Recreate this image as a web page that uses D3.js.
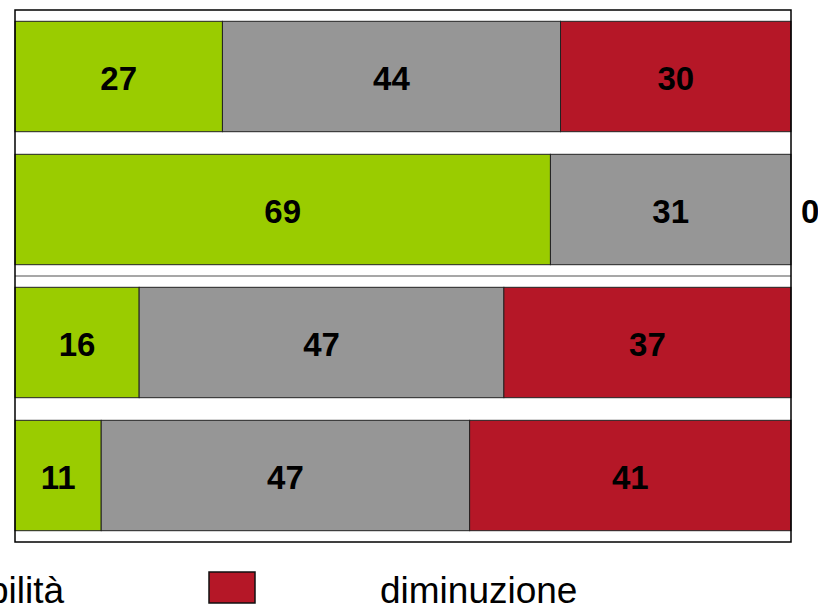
<!DOCTYPE html>
<html>
<head>
<meta charset="utf-8">
<script src="https://cdn.jsdelivr.net/npm/d3@7"></script>
<style>
  html, body { margin: 0; padding: 0; background: #fff; overflow: hidden; }
  text { font-family: "Liberation Sans", Arial, sans-serif; }
</style>
</head>
<body>
<svg id="chart"></svg>
<script>
// rows of the chart (labels sit off the visible area in the original)
const categories = ["riga 1", "riga 2", "riga 3", "riga 4"];
const seriesNames = ["aumento", "stabilità", "diminuzione"];
const aumento = [27, 69, 16, 11];
const stabilita = [44, 31, 47, 47];
const diminuzione = [30, 0, 37, 41];

const width = 818, height = 605;
const colors = ["#9acc00", "#969696", "#b51727"];

const rows = categories.map((c, i) => ({
  cat: c,
  "aumento": aumento[i],
  "stabilità": stabilita[i],
  "diminuzione": diminuzione[i]
}));

const svg = d3.select("#chart").attr("width", width).attr("height", height);

const plotLeft = 15, plotRight = 791, plotTop = 10, plotBottom = 542;

const x = d3.scaleLinear().domain([0, 1]).range([plotLeft, plotRight]);
const y = d3.scaleBand()
  .domain(categories)
  .range([plotTop, plotBottom])
  .paddingInner(0.17)
  .paddingOuter(0.085);

const stack = d3.stack().keys(seriesNames).offset(d3.stackOffsetExpand);
const series = stack(rows);

// separator between 2nd and 3rd row
const sepY = plotTop + y.step() * 2;
svg.append("line")
  .attr("x1", plotLeft).attr("x2", plotRight)
  .attr("y1", sepY).attr("y2", sepY)
  .attr("stroke", "#8a8a8a")
  .attr("stroke-width", 1.5);

const groups = svg.selectAll("g.series")
  .data(series)
  .enter()
  .append("g")
  .attr("class", "series")
  .attr("fill", (d, i) => colors[i]);

groups.selectAll("rect")
  .data(d => d.filter(s => s[1] - s[0] > 0))
  .enter()
  .append("rect")
  .attr("x", d => x(d[0]))
  .attr("y", d => y(d.data.cat))
  .attr("width", d => x(d[1]) - x(d[0]))
  .attr("height", y.bandwidth())
  .attr("stroke", "#222")
  .attr("stroke-width", 1);

// value labels
groups.selectAll("text")
  .data(d => d.map(s => ({ s: s, key: d.key })))
  .enter()
  .append("text")
  .attr("x", d => {
    const w = x(d.s[1]) - x(d.s[0]);
    return w > 0 ? (x(d.s[0]) + x(d.s[1])) / 2 : x(d.s[1]) + 10;
  })
  .attr("y", d => y(d.s.data.cat) + y.bandwidth() / 2 + 13)
  .attr("text-anchor", d => (x(d.s[1]) - x(d.s[0]) > 0 ? "middle" : "start"))
  .attr("font-size", 33)
  .attr("font-weight", "bold")
  .attr("fill", "#000")
  .text(d => d.s.data[d.key]);

// plot frame
svg.append("rect")
  .attr("x", plotLeft).attr("y", plotTop)
  .attr("width", plotRight - plotLeft).attr("height", plotBottom - plotTop)
  .attr("fill", "none")
  .attr("stroke", "#000")
  .attr("stroke-width", 1.5);

// legend (only part of it is visible)
svg.append("text")
  .attr("x", 64).attr("y", 603)
  .attr("text-anchor", "end")
  .attr("font-size", 37)
  .attr("fill", "#000")
  .text(seriesNames[1]);

svg.append("rect")
  .attr("x", 209).attr("y", 572)
  .attr("width", 46).attr("height", 31)
  .attr("fill", colors[2])
  .attr("stroke", "#111")
  .attr("stroke-width", 1.5);

svg.append("text")
  .attr("x", 380).attr("y", 603)
  .attr("font-size", 37)
  .attr("fill", "#000")
  .text(seriesNames[2]);
</script>
</body>
</html>
